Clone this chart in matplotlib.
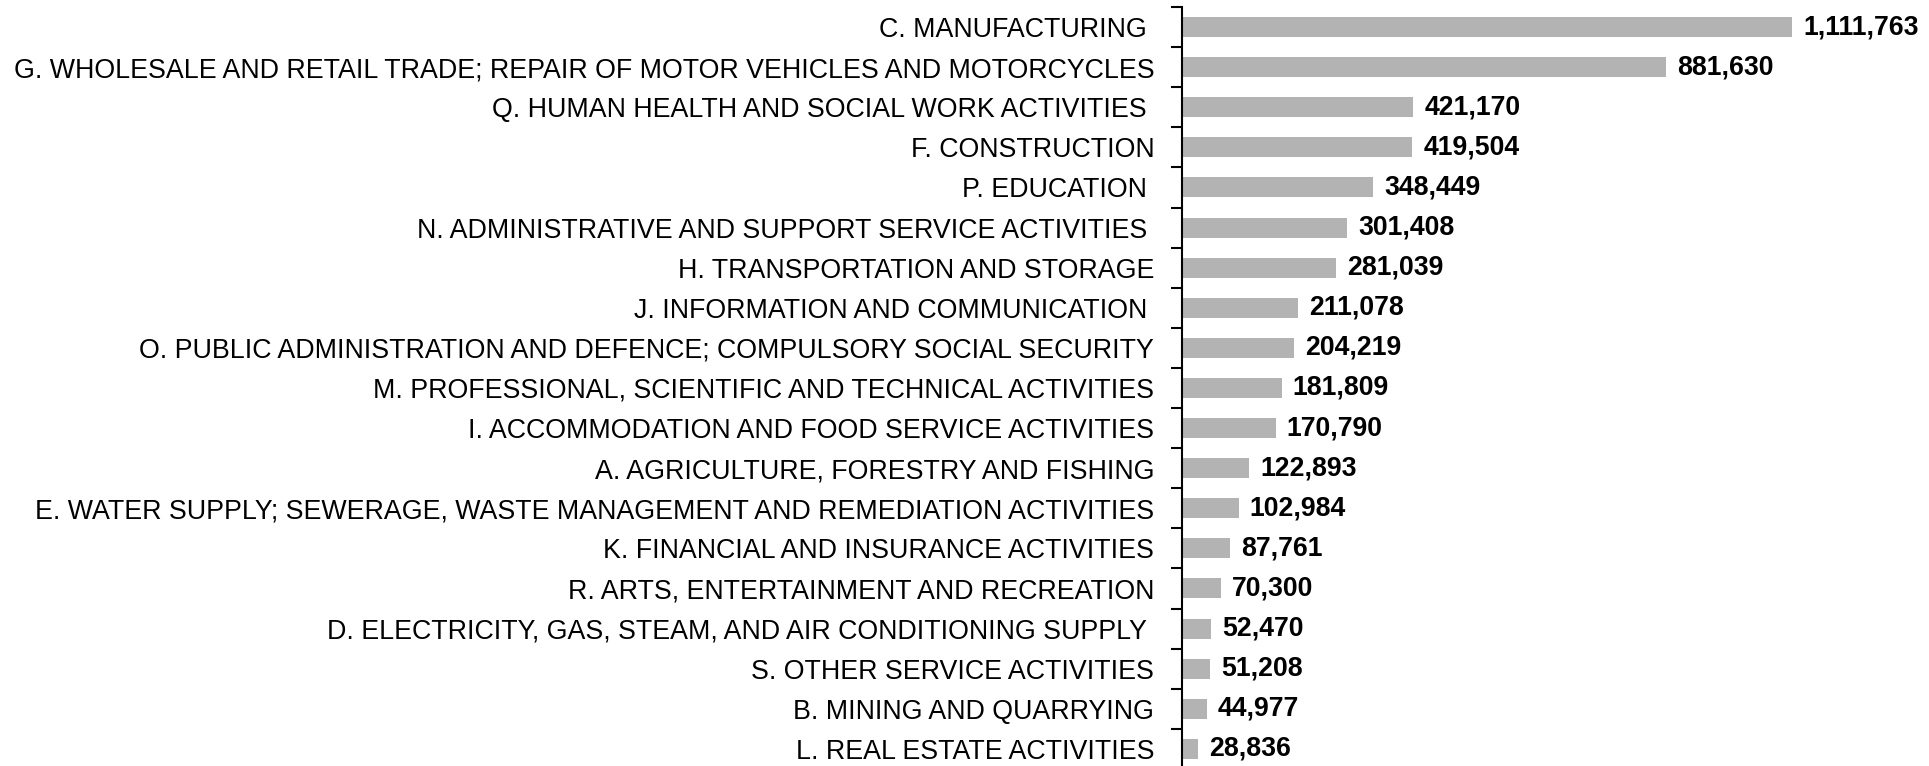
import matplotlib
matplotlib.use("Agg")
import matplotlib.pyplot as plt
import numpy as np

categories = [
    "C. MANUFACTURING ",
    "G. WHOLESALE AND RETAIL TRADE; REPAIR OF MOTOR VEHICLES AND MOTORCYCLES",
    "Q. HUMAN HEALTH AND SOCIAL WORK ACTIVITIES ",
    "F. CONSTRUCTION",
    "P. EDUCATION ",
    "N. ADMINISTRATIVE AND SUPPORT SERVICE ACTIVITIES ",
    "H. TRANSPORTATION AND STORAGE",
    "J. INFORMATION AND COMMUNICATION ",
    "O. PUBLIC ADMINISTRATION AND DEFENCE; COMPULSORY SOCIAL SECURITY",
    "M. PROFESSIONAL, SCIENTIFIC AND TECHNICAL ACTIVITIES",
    "I. ACCOMMODATION AND FOOD SERVICE ACTIVITIES",
    "A. AGRICULTURE, FORESTRY AND FISHING",
    "E. WATER SUPPLY; SEWERAGE, WASTE MANAGEMENT AND REMEDIATION ACTIVITIES",
    "K. FINANCIAL AND INSURANCE ACTIVITIES",
    "R. ARTS, ENTERTAINMENT AND RECREATION",
    "D. ELECTRICITY, GAS, STEAM, AND AIR CONDITIONING SUPPLY ",
    "S. OTHER SERVICE ACTIVITIES",
    "B. MINING AND QUARRYING",
    "L. REAL ESTATE ACTIVITIES",
]
values = [1111763, 881630, 421170, 419504, 348449, 301408, 281039, 211078, 204219,
          181809, 170790, 122893, 102984, 87761, 70300, 52470, 51208, 44977, 28836]

plt.rcParams['font.family'] = ['Liberation Sans', 'DejaVu Sans']

W, H = 1929, 766
fig = plt.figure(figsize=(W / 100, H / 100), dpi=100)
left = 1182 / W
top_px = 7
row_px = 40.1
n = len(categories)
ax_h = n * row_px
ax = fig.add_axes([left, (H - top_px - ax_h) / H, 1 - left, ax_h / H])

y = np.arange(n)
bars = ax.barh(y, values, height=0.5, color='#b3b3b3', edgecolor='none')
ax.set_ylim(n - 0.5, -0.5)
ax.set_xlim(0, 1111763 * (W - 1182) / 610)

ax.set_yticks(y)
ax.set_yticklabels(categories, fontsize=19.3)
ax.tick_params(axis='y', which='major', length=0, pad=20)
ax.set_yticks(np.arange(n + 1) - 0.5, minor=True)
ax.tick_params(axis='y', which='minor', length=8, width=1.5, color='black')
ax.set_xticks([])

for s in ['top', 'right', 'bottom']:
    ax.spines[s].set_visible(False)
ax.spines['left'].set_linewidth(1.5)
ax.spines['left'].set_color('black')

ax.bar_label(bars, labels=[f"{v:,}" for v in values], padding=8,
             fontsize=19.2, fontweight='bold', color='black')

fig.savefig("out.png", dpi=100)
